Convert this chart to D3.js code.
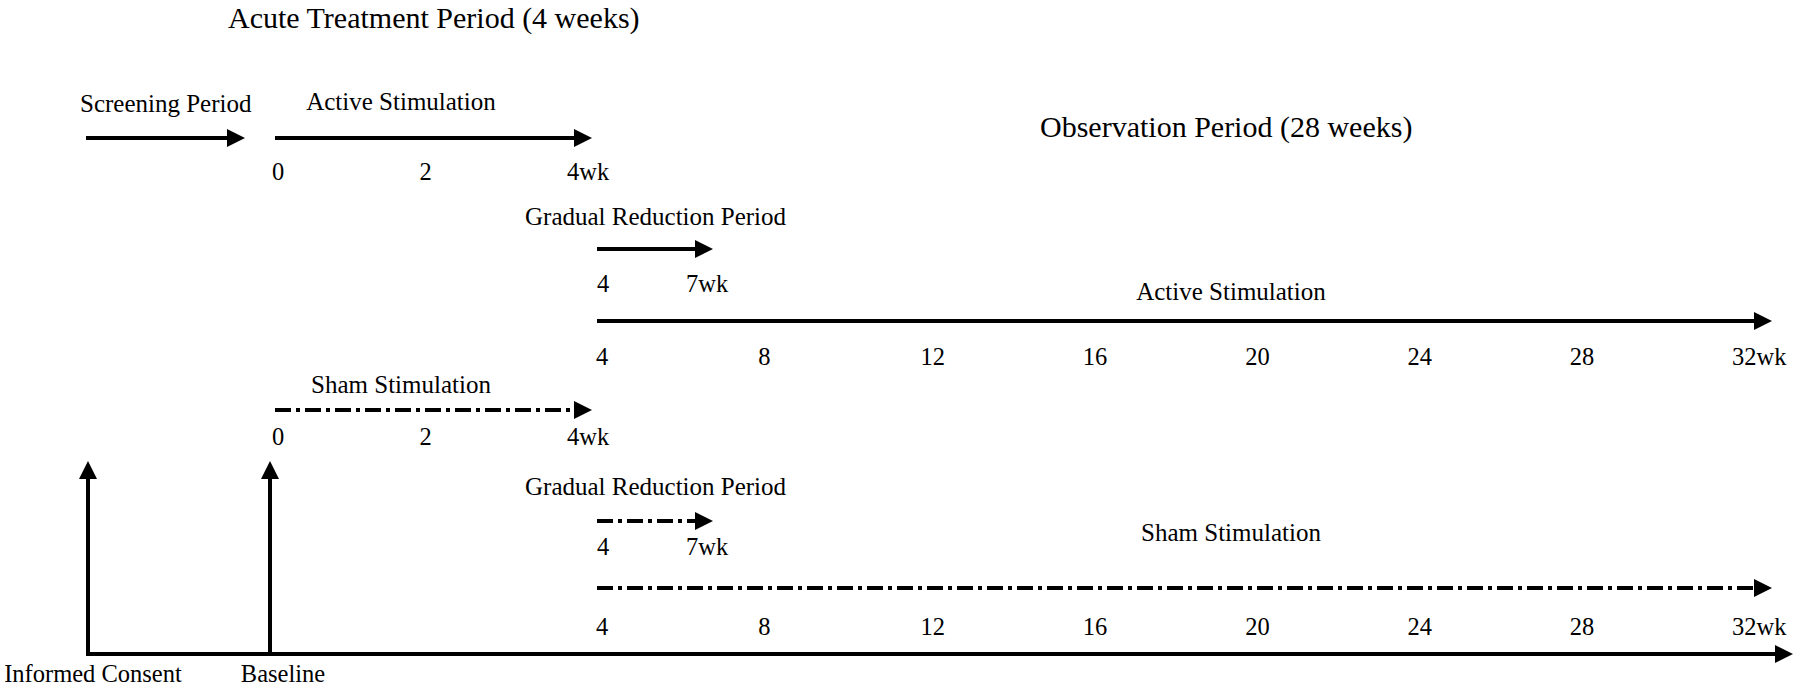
<!DOCTYPE html>
<html>
<head>
<meta charset="utf-8">
<script src="https://cdn.jsdelivr.net/npm/d3@7"></script>
<style>
  body { margin: 0; background: #fff; }
  text { font-family: "Liberation Serif", "Times New Roman", serif; fill: #000; }
</style>
</head>
<body>
<div id="chart"></div>
<script>
// Study design content
var periodTitles = ["Acute Treatment Period (4 weeks)", "Observation Period (28 weeks)"];
var arms = ["Active Stimulation", "Sham Stimulation"];
var screeningLabel = "Screening Period";
var reductionLabel = "Gradual Reduction Period";
var acuteWeeks = [0, 2, 4];
var reductionWeeks = [4, 7];
var observationWeeks = [4, 8, 12, 16, 20, 24, 28, 32];
var milestones = ["Informed Consent", "Baseline"];
var unit = "wk";

// Layout
var width = 1794, height = 689;
var headLen = 18, headHalf = 9, stroke = 4;
var dash = "16,5,4,5";

var acuteX = d3.scaleLinear().domain(d3.extent(acuteWeeks)).range([272, 567]);
var reductionX = d3.scaleLinear().domain(d3.extent(reductionWeeks)).range([597, 686]);
var obsX = d3.scaleLinear().domain(d3.extent(observationWeeks)).range([596, 1732]);

// one entry per arm (active, sham)
var rows = [
  { dashed: false, acuteY: 138, acuteLabelY: 110, acuteTickY: 180,
    redLabelY: 225, redY: 249, redTickY: 292,
    obsLabelY: 300, obsY: 321, obsTickY: 365 },
  { dashed: true, acuteY: 410, acuteLabelY: 393, acuteTickY: 445,
    redLabelY: 495, redY: 521, redTickY: 555,
    obsLabelY: 541, obsY: 588, obsTickY: 635 }
];

var svg = d3.select("#chart").append("svg")
  .attr("width", width)
  .attr("height", height);

function arrow(g, x1, y1, x2, y2, dashed) {
  var len = Math.hypot(x2 - x1, y2 - y1),
      ux = (x2 - x1) / len, uy = (y2 - y1) / len,
      bx = x2 - ux * headLen, by = y2 - uy * headLen;
  g.append("line")
    .attr("x1", x1).attr("y1", y1)
    .attr("x2", bx + ux).attr("y2", by + uy)
    .attr("stroke", "#000")
    .attr("stroke-width", stroke)
    .attr("stroke-dasharray", dashed ? dash : null);
  g.append("path")
    .attr("d", d3.line()([[x2, y2], [bx - uy * headHalf, by + ux * headHalf], [bx + uy * headHalf, by - ux * headHalf]]) + "Z")
    .attr("fill", "#000");
}

function label(g, txt, x, y, size, anchor) {
  g.append("text")
    .attr("x", x).attr("y", y)
    .attr("font-size", size)
    .attr("text-anchor", anchor || "start")
    .text(txt);
}

function ticks(g, weeks, scale, y) {
  g.selectAll(null)
    .data(weeks)
    .enter().append("text")
    .attr("x", function(d) { return scale(d); })
    .attr("y", y)
    .attr("font-size", 24.5)
    .text(function(d, i) { return i == weeks.length - 1 ? d + unit : d; });
}

// Period titles
label(svg, periodTitles[0], 228, 28, 30);
label(svg, periodTitles[1], 1040, 137, 30);

// Screening period
label(svg, screeningLabel, 80, 112, 25);
arrow(svg, 86, rows[0].acuteY, 245, rows[0].acuteY, false);

// Arms
rows.forEach(function(r, i) {
  var g = svg.append("g").attr("class", "arm");
  // acute phase
  label(g, arms[i], 401, r.acuteLabelY, 25, "middle");
  arrow(g, acuteX(0) + 3, r.acuteY, acuteX(4) + 25, r.acuteY, r.dashed);
  ticks(g, acuteWeeks, acuteX, r.acuteTickY);
  // gradual reduction
  label(g, reductionLabel, 525, r.redLabelY, 25);
  arrow(g, reductionX(4), r.redY, reductionX(7) + 27, r.redY, r.dashed);
  ticks(g, reductionWeeks, reductionX, r.redTickY);
  // observation
  label(g, arms[i], 1231, r.obsLabelY, 25, "middle");
  arrow(g, obsX(4) + 1, r.obsY, obsX(32) + 40, r.obsY, r.dashed);
  ticks(g, observationWeeks, obsX, r.obsTickY);
});

// Bottom timeline and milestones
var axisY = 654;
var milestoneX = [88, acuteX(0) - 2];
var milestoneLabelX = [93, 283];
arrow(svg, 86, axisY, 1793, axisY, false);
milestoneX.forEach(function(x, i) {
  arrow(svg, x, axisY + 2, x, 461, false);
  label(svg, milestones[i], milestoneLabelX[i], 682, 24.5, "middle");
});
</script>
</body>
</html>
